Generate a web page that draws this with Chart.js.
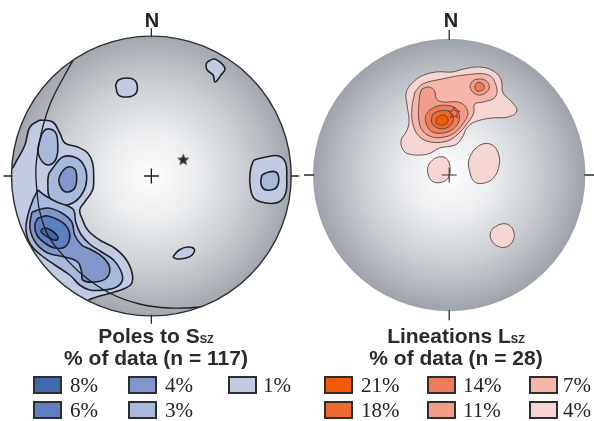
<!DOCTYPE html>
<html><head><meta charset="utf-8">
<script src="https://cdn.jsdelivr.net/npm/chart.js@4.4.1/dist/chart.umd.min.js"></script>
<style>
html,body{margin:0;padding:0;background:#fff;}
#wrap{position:relative;width:594px;height:421px;overflow:hidden;background:#fff;}
canvas{position:absolute;top:0;}
.t{position:absolute;font-family:"Liberation Sans",Arial,sans-serif;font-weight:bold;color:#2a2a2a;white-space:nowrap;text-align:center;font-size:21px;line-height:21px;}
.t small{font-size:11px;}
.n{position:absolute;font-family:"Liberation Sans",Arial,sans-serif;font-weight:bold;color:#222;font-size:20px;line-height:20px;text-align:center;width:40px;}
.box{position:absolute;width:29px;height:18px;box-sizing:border-box;border:2.5px solid #2e2e2e;}
.lab{position:absolute;font-family:"Liberation Serif","Times New Roman",serif;font-size:21px;line-height:21px;color:#222;white-space:nowrap;}
</style></head><body>
<div id="wrap">
<canvas id="cL" width="300" height="330" style="left:0px"></canvas>
<canvas id="cR" width="294" height="330" style="left:300px"></canvas>
<div class="n" style="left:132px;top:10px">N</div>
<div class="n" style="left:431px;top:10px">N</div>
<div class="t" style="left:0px;width:312px;top:325px">Poles to S<small>SZ</small></div>
<div class="t" style="left:0px;width:312px;top:347px">% of data (n = 117)</div>
<div class="t" style="left:300px;width:312px;top:325px">Lineations L<small>SZ</small></div>
<div class="t" style="left:300px;width:312px;top:347px">% of data (n = 28)</div>
</div>
<script>
// ---------- DATA (net units: x = east, y = north, primitive radius ~140) ----------
// Poles to S_SZ contours (left net)
const poles1a = [[-112,56],[-99,54],[-92,43],[-87,33],[-74,29],[-64,23],[-59,13],[-58,-1],[-59,-14],[-67,-26],[-72,-34],[-69,-44],[-64,-54],[-52,-64],[-37,-72],[-25,-84],[-19,-99],[-21,-109],[-37,-116],[-55,-121],[-67,-127],[-100,-170],[-170,-100],[-170,0],[-142,6],[-135,16],[-127,31],[-122,49]];
const poles1b = [[-36,91],[-33,96],[-25,98],[-17,96],[-14,89],[-16,82],[-24,79],[-33,81]];
const poles1c = [[56,114],[63,117],[70,113],[74,107],[70,101],[64,94],[62,101],[56,106],[55,111]];
const poles1d = [[103,16],[115,19],[128,20],[135,13],[136,-1],[135,-17],[128,-26],[115,-27],[103,-22],[99,-7],[100,8]];
const poles1e = [[23,-79],[28,-74],[36,-71],[43,-73],[41,-79],[35,-82],[26,-83],[22,-81]];
const poles3a = [[-112,36],[-108,45],[-102,47],[-96,43],[-94,31],[-95,19],[-100,12],[-107,12],[-112,18],[-114,26]];
const poles3b = [[-99,8],[-89,19],[-75,18],[-67,9],[-65,-4],[-69,-17],[-79,-27],[-92,-29],[-102,-22],[-104,-7],[-103,2]];
const poles3c = [[-114,-14],[-119,-24],[-124,-39],[-126,-54],[-121,-69],[-111,-79],[-97,-89],[-82,-99],[-72,-109],[-62,-114],[-47,-114],[-35,-111],[-29,-104],[-31,-94],[-38,-84],[-50,-76],[-62,-68],[-71,-58],[-76,-46],[-78,-34],[-84,-30],[-95,-26],[-106,-20]];
const poles3d = [[111,1],[118,4],[125,4],[128,-2],[126,-11],[120,-14],[113,-13],[110,-7]];
const poles4a = [[-90,4],[-84,9],[-77,7],[-75,-2],[-77,-12],[-84,-16],[-90,-13],[-93,-4]];
const poles4b = [[-120,-36],[-122,-52],[-116,-67],[-104,-77],[-87,-81],[-74,-86],[-70,-96],[-69,-104],[-57,-106],[-45,-102],[-42,-91],[-49,-81],[-60,-74],[-70,-69],[-77,-59],[-80,-46],[-90,-37],[-104,-32]];
const poles6  = [[-114,-42],[-104,-40],[-90,-46],[-84,-52],[-82,-62],[-87,-71],[-97,-72],[-107,-67],[-115,-59],[-117,-49]];
const poles8  = [[-111,-54],[-107,-52],[-101,-54],[-95,-59],[-94,-63],[-98,-64],[-104,-61],[-110,-57]];
const greatCircle = [[-74,124],[-88,99],[-100,76],[-108,53],[-113,31],[-116,8],[-115,-14],[-112,-36],[-104,-59],[-89,-79],[-69,-99],[-42,-117],[-12,-128],[18,-132],[48,-131],[72,-126]];
const polesStar = [[32,16]];
// Lineations L_SZ contours (right net)
const lin4a = [[-40,90],[-30,98],[-14,103],[3,103],[15,106],[31,108],[45,104],[53,95],[55,82],[64,73],[69,64],[60,58],[43,57],[26,53],[18,47],[13,37],[6,30],[-10,27],[-19,22],[-28,20],[-41,21],[-47,25],[-49,35],[-44,43],[-41,53],[-43,70],[-44,82]];
const lin4b = [[-20,12],[-14,17],[-6,18],[-1,14],[1,5],[-1,-3],[-7,-7],[-16,-7],[-21,-1],[-22,7]];
const lin4c = [[25,25],[34,31],[44,30],[50,22],[51,10],[46,-2],[36,-8],[26,-7],[21,3],[20,15]];
const lin4d = [[45,-53],[53,-49],[61,-50],[66,-57],[65,-66],[58,-72],[49,-71],[43,-65],[42,-58]];
const lin7   = [[-35,83],[-27,91],[-7,96],[16,100],[40,100],[48,89],[47,78],[35,73],[26,71],[25,62],[18,51],[9,41],[-2,34],[-19,33],[-31,39],[-37,51],[-38,67]];
const lin11a = [[-28,86],[-21,88],[-15,84],[-13,76],[-6,73],[9,73],[16,69],[19,61],[13,50],[5,42],[-5,38],[-17,38],[-27,44],[-31,55],[-31,69],[-30,80]];
const lin11b = [[21,88],[24,94],[31,96],[38,94],[41,88],[37,82],[30,80],[24,83]];
const lin14a = [[-20,65],[-12,69],[2,69],[9,64],[10,54],[4,46],[-6,42],[-17,43],[-23,50],[-24,59]];
const lin14b = [[26,88],[28,92],[33,92],[36,88],[34,85],[28,84]];
const lin18  = [[-17,61],[-10,64],[-1,64],[4,59],[3,52],[-3,47],[-12,47],[-18,53]];
const lin21  = [[-13,57],[-7,60],[-2,58],[-2,52],[-8,50],[-13,52]];
const linStar = [[5,62]];
// legend labels
const polesLegend = ['8%','6%','4%','3%','1%'];
const linLegend = ['21%','18%','14%','11%','7%','4%'];

// ---------- STYLES ----------
const polesColors = ['#4068ad','#5c80c2','#8396cb','#a9b9dc','#c2cbe2'];
const linColors = ['#f25a05','#ec6a2e','#ee7b5b','#f39d88','#f6b6ab','#f6d6d2'];

const pts = a => a.map(([x,y]) => ({x,y}));
function poly(a, fill, line, lw) {
  return {data: pts(a.concat([a[0]])), showLine:true, area:fill, borderColor:line, borderWidth:lw,
          pointRadius:0, pointHitRadius:0, tension:0.4, fill:false, borderJoinStyle:'round'};
}
function starImage(r, fill, stroke, lw) {
  const c = document.createElement('canvas'); const s = Math.ceil(2*r+4); c.width = c.height = s;
  const g = c.getContext('2d'); g.beginPath();
  for (let i=0;i<10;i++){ const a=-Math.PI/2+i*Math.PI/5; const rr=i%2? r*0.42 : r; g.lineTo(s/2+rr*Math.cos(a), s/2+rr*Math.sin(a)); }
  g.closePath(); if (fill){g.fillStyle=fill; g.fill();} if (stroke){g.strokeStyle=stroke; g.lineWidth=lw; g.stroke();}
  return c;
}
const polyFill = { id:'polyFill', beforeDatasetDraw(chart, args) {
  const ds = chart.data.datasets[args.index]; if (!ds.area) return;
  const line = args.meta.dataset; if (!line) return;
  const ctx = chart.ctx;
  line.updateControlPoints(chart.chartArea, 'x');
  ctx.save(); ctx.beginPath(); line.path(ctx); ctx.closePath(); ctx.fillStyle = ds.area; ctx.fill(); ctx.restore();
}};
function netDecor(cfg) {
  return { id:'netDecor',
    beforeDatasetsDraw(chart) {
      const {ctx} = chart; const x = chart.scales.x, y = chart.scales.y;
      const cx = x.getPixelForValue(0), cy = y.getPixelForValue(0), r = x.getPixelForValue(cfg.R) - cx;
      const g = ctx.createRadialGradient(cx, cy, 0, cx, cy, r);
      cfg.shade.forEach(([o,c]) => g.addColorStop(o,c));
      ctx.save(); ctx.beginPath(); ctx.arc(cx,cy,r,0,2*Math.PI); ctx.fillStyle=g; ctx.fill(); ctx.clip();
    },
    afterDatasetsDraw(chart) {
      const {ctx} = chart; const x = chart.scales.x, y = chart.scales.y;
      ctx.restore();
      const cx = x.getPixelForValue(0), cy = y.getPixelForValue(0), r = x.getPixelForValue(cfg.R) - cx;
      if (cfg.outline) { ctx.beginPath(); ctx.arc(cx,cy,r,0,2*Math.PI); ctx.strokeStyle=cfg.outline; ctx.lineWidth=cfg.outlineW; ctx.stroke(); }
      ctx.strokeStyle = '#2a2a2a'; ctx.lineWidth = 1.3; const t = cfg.tick;
      ctx.beginPath();
      ctx.moveTo(cx-r-t, cy); ctx.lineTo(cx-r+1, cy);
      ctx.moveTo(cx+r-1, cy); ctx.lineTo(cx+r+t, cy);
      ctx.moveTo(cx, cy-r-t); ctx.lineTo(cx, cy-r+1);
      ctx.moveTo(cx, cy+r-1); ctx.lineTo(cx, cy+r+t);
      ctx.stroke();
    }
  };
}
function makeNet(id, R, pad, datasets, cfg) {
  datasets.forEach((d,i) => d.order = datasets.length - i);
  return new Chart(document.getElementById(id), {
    type:'scatter', data:{datasets},
    options:{responsive:false, animation:false, devicePixelRatio:1, events:[],
      layout:{padding:pad},
      scales:{x:{type:'linear',min:-R,max:R,display:false}, y:{type:'linear',min:-R,max:R,display:false}},
      plugins:{legend:{display:false}, tooltip:{enabled:false}}},
    plugins:[polyFill, netDecor(Object.assign({R}, cfg))]
  });
}

// left net
const LC = '#1d2129', LW = 1.6;
makeNet('cL', 140.5, {left:11.5, top:35.5, right:7.5, bottom:13.5}, [
  poly(poles1a, polesColors[4], LC, LW), poly(poles1b, polesColors[4], LC, LW), poly(poles1c, polesColors[4], LC, LW),
  poly(poles1d, polesColors[4], LC, LW), poly(poles1e, polesColors[4], LC, LW),
  poly(poles3a, polesColors[3], LC, LW), poly(poles3b, polesColors[3], LC, LW), poly(poles3c, polesColors[3], LC, LW), poly(poles3d, polesColors[3], LC, LW),
  poly(poles4a, polesColors[2], LC, LW), poly(poles4b, polesColors[2], LC, LW),
  poly(poles6, polesColors[1], LC, LW), poly(poles8, polesColors[0], LC, LW),
  {data: pts(greatCircle), showLine:true, borderColor:'#1d1d1d', borderWidth:1.3, pointRadius:0, tension:0.4, fill:false},
  {data: pts(polesStar), pointStyle: starImage(6.5,'#2a2a2a'), pointRadius:6},
  {data: [{x:0,y:0}], pointStyle:'cross', pointRadius:7.5, borderColor:'#1a1a1a', borderWidth:1.3}
], {shade:[[0,'#ffffff'],[0.3,'#eceef0'],[0.65,'#cdd0d4'],[1,'#a3a7ae']], outline:'#2a2e36', outlineW:1.4, tick:8});

// right net
const RC = '#5a4440', RW = 0.9;
makeNet('cR', 139, {left:13, top:36, right:3, bottom:16}, [
  poly(lin4a, linColors[5], RC, RW), poly(lin4b, linColors[5], RC, RW), poly(lin4c, linColors[5], RC, RW), poly(lin4d, linColors[5], RC, RW),
  poly(lin7, linColors[4], RC, RW),
  poly(lin11a, linColors[3], RC, RW), poly(lin11b, linColors[3], RC, RW),
  poly(lin14a, linColors[2], RC, RW), poly(lin14b, linColors[2], RC, RW),
  poly(lin18, linColors[1], RC, RW), poly(lin21, linColors[0], RC, RW),
  {data: pts(linStar), pointStyle: starImage(6,null,'#7a2e1e',0.9), pointRadius:6},
  {data: [{x:0,y:0}], pointStyle:'cross', pointRadius:7.5, borderColor:'#333', borderWidth:1.1}
], {shade:[[0,'#ffffff'],[0.3,'#eceef0'],[0.65,'#cbced3'],[1,'#9ea2aa']], outline:null, tick:9});

// legends
const wrap = document.getElementById('wrap');
function legend(labels, colors, colX, textDx) {
  labels.forEach((lab, i) => {
    const col = Math.floor(i/2), row = i%2;
    const b = document.createElement('div'); b.className='box';
    b.style.left = colX[col]+'px'; b.style.top = (row? 401:376)+'px'; b.style.background = colors[i];
    wrap.appendChild(b);
    const t = document.createElement('div'); t.className='lab'; t.textContent = lab;
    t.style.left = (colX[col]+textDx[col])+'px'; t.style.top = (row? 400:375)+'px';
    wrap.appendChild(t);
  });
}
legend(polesLegend, polesColors, [33,128,228], [37,37,35]);
legend(linLegend, linColors, [324,427,529], [37,36,34]);
</script>
</body></html>
